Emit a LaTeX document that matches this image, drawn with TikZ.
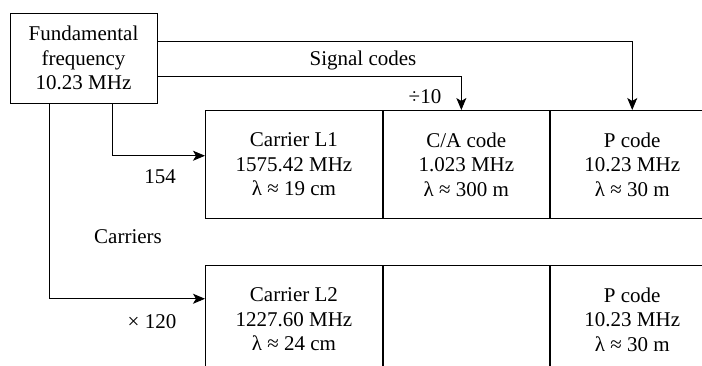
\documentclass[tikz,border=0pt]{standalone}
\usepackage{fontspec}
\setmainfont{Liberation Serif}
\usetikzlibrary{positioning,arrows.meta,calc}
\tikzset{
  cell/.style={draw, line width=0.9pt, align=center, inner sep=0pt,
    minimum height=108pt, font=\fontsize{21}{24.5}\selectfont},
  srcbox/.style={draw, line width=0.9pt, align=center, inner sep=0pt,
    minimum width=147pt, minimum height=90pt, font=\fontsize{21}{24.5}\selectfont},
  lbl/.style={font=\fontsize{21}{24.5}\selectfont, inner sep=0pt},
  flow/.style={-{Stealth[length=12pt,width=10pt,inset=3pt]}, line width=0.9pt},
}
\begin{document}
\begin{tikzpicture}[x=1pt,y=-1pt]
  \useasboundingbox (0,0) rectangle (702,365);
  % source
  \node[srcbox] (fund) at (83.5,58) {Fundamental\\frequency\\10.23 MHz};
  % upper row
  \node[cell, minimum width=177pt, anchor=north west] (l1) at (205,110)
       {Carrier L1\\1575.42 MHz\\λ ≈ 19 cm};
  \node[cell, minimum width=166pt, anchor=north west] (ca) at (l1.north east)
       {C/A code\\1.023 MHz\\λ ≈ 300 m};
  \node[cell, minimum width=164pt, anchor=north west] (pc1) at (ca.north east)
       {P code\\10.23 MHz\\λ ≈ 30 m};
  % lower row
  \node[cell, minimum width=177pt, anchor=north west] (l2) at (205,265)
       {Carrier L2\\1227.60 MHz\\λ ≈ 24 cm};
  \node[cell, minimum width=166pt, anchor=north west] (gap) at (l2.north east) {};
  \node[cell, minimum width=164pt, anchor=north west] (pc2) at (gap.north east)
       {P code\\10.23 MHz\\λ ≈ 30 m};
  % labels
  \node[lbl] (sig) at (363,60) {Signal codes};
  \node[lbl] (div) at (425,97) {÷10};
  \node[lbl] (m154) at (160,177) {154};
  \node[lbl] (carr) at (128,237) {Carriers};
  \node[lbl] (m120) at (152,322) {× 120};
  % connectors
  \draw[flow] ($(fund.north east)!0.32!(fund.south east)$) -| (pc1.north);
  \draw[flow] ($(fund.north east)!0.70!(fund.south east)$) -| ([xshift=-5pt]ca.north);
  \draw[flow] ([xshift=103pt]fund.south west) |- ($(l1.north west)!0.42!(l1.south west)$);
  \draw[flow] ([xshift=40pt]fund.south west) |- ($(l2.north west)!0.31!(l2.south west)$);
\end{tikzpicture}
\end{document}
